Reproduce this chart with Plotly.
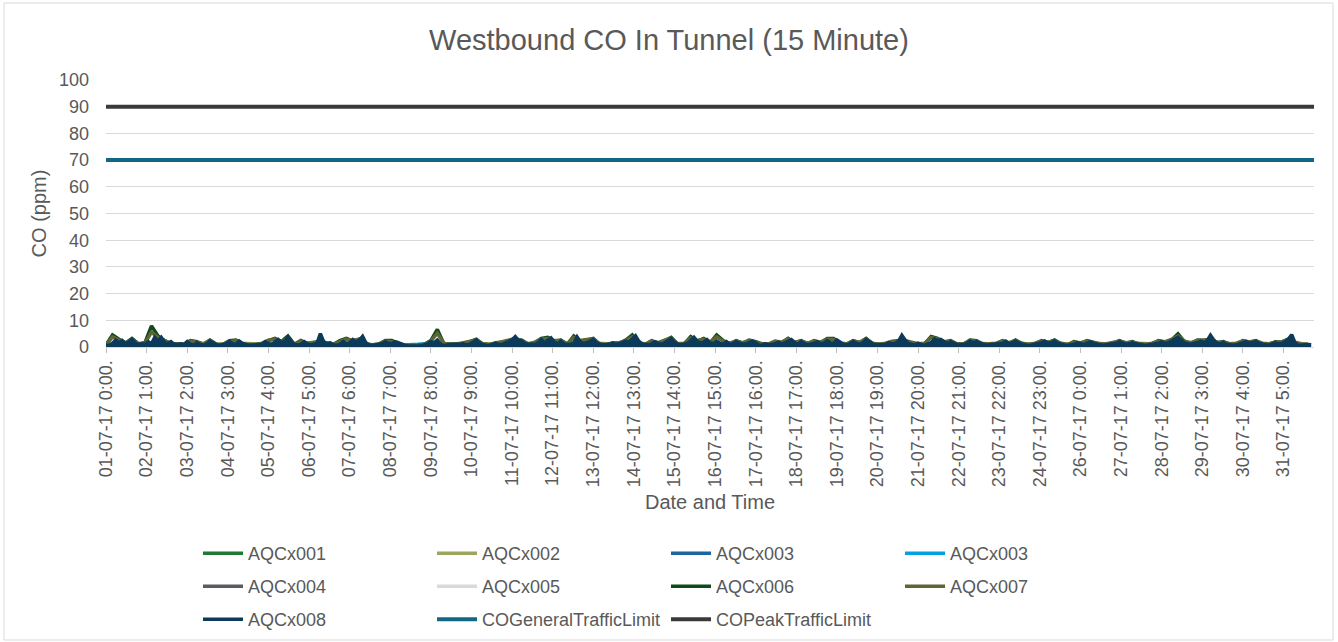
import pandas as pd
import plotly.graph_objects as go

# ---------------- data ----------------
title_text = "Westbound CO In Tunnel (15 Minute)"

tick_labels = [
    "01-07-17 0:00", "02-07-17 1:00", "03-07-17 2:00", "04-07-17 3:00", "05-07-17 4:00",
    "06-07-17 5:00", "07-07-17 6:00", "08-07-17 7:00", "09-07-17 8:00", "10-07-17 9:00",
    "11-07-17 10:00", "12-07-17 11:00", "13-07-17 12:00", "14-07-17 13:00", "15-07-17 14:00",
    "16-07-17 15:00", "17-07-17 16:00", "18-07-17 17:00", "19-07-17 18:00", "20-07-17 19:00",
    "21-07-17 20:00", "22-07-17 21:00", "23-07-17 22:00", "24-07-17 23:00", "26-07-17 0:00",
    "27-07-17 1:00", "28-07-17 2:00", "29-07-17 3:00", "30-07-17 4:00", "31-07-17 5:00",
]

series_start = "2017-07-01 00:00"
series_end = "2017-07-31 23:45"

# AQCx008 (2-hourly readings, 12 per day)
aqc008 = [
    0.8,0.6,1.4,2.6,1.5,2.4,1.2,1.8,2.8,1.4,1.0,1.2,
    1.0,2.0,1.2,3.6,2.2,3.6,1.8,1.2,2.0,1.0,0.8,1.2,
    0.9,2.0,1.0,0.8,1.6,0.9,0.7,1.2,2.2,1.4,0.8,0.7,
    0.8,1.2,2.0,1.2,1.0,2.2,1.3,0.8,0.6,0.7,0.9,0.8,
    1.0,2.0,1.2,1.0,1.8,2.8,1.6,2.2,3.6,2.0,1.0,0.8,
    1.0,2.0,1.2,0.8,1.0,1.6,5.0,2.0,1.0,1.6,0.8,0.7,
    1.0,2.0,1.4,1.6,2.8,1.8,2.6,4.0,1.6,0.8,0.6,0.7,
    0.8,1.2,2.0,1.4,1.2,2.0,1.6,1.0,0.6,0.5,0.4,0.5,
    0.5,0.4,0.8,1.2,2.0,1.6,2.6,1.0,0.5,0.8,1.0,0.9,
    0.8,1.0,1.2,0.8,1.0,1.8,2.6,1.6,0.9,0.7,0.6,1.0,
    1.4,0.9,1.0,1.6,2.0,2.6,3.9,2.4,2.2,1.2,1.0,0.9,
    1.0,1.6,2.8,1.6,2.4,3.4,1.8,1.2,2.2,1.2,0.9,1.0,
    1.6,3.8,2.0,1.2,1.6,2.2,2.8,1.6,1.0,0.8,0.7,0.9,
    1.4,1.0,1.2,1.6,2.2,1.8,2.8,4.2,2.2,1.2,0.9,0.8,
    1.2,2.0,1.4,1.0,1.6,2.4,3.2,1.8,1.0,0.8,1.2,1.4,
    2.4,3.6,2.2,1.4,1.8,2.8,1.6,1.2,2.2,1.4,1.0,2.0,
    1.0,1.2,2.0,1.4,1.0,1.2,1.8,2.2,1.6,0.8,0.6,1.2,
    0.8,1.0,1.2,1.8,1.2,1.6,2.2,2.8,1.6,1.0,2.0,1.2,
    0.9,1.0,1.4,2.0,1.2,1.4,2.4,1.6,1.4,2.6,1.6,1.0,
    0.8,1.2,2.0,1.4,1.0,1.6,2.8,2.0,1.2,0.8,0.7,0.8,
    1.0,1.6,1.2,1.4,2.2,4.4,2.6,1.4,1.0,0.8,1.4,0.8,
    0.7,1.0,1.6,3.0,2.4,2.8,1.8,1.2,2.0,1.4,0.9,0.8,
    0.9,1.4,2.2,1.6,2.0,1.4,0.9,0.7,0.8,1.0,0.9,1.2,
    1.4,2.2,1.2,1.6,2.2,1.6,1.0,0.8,0.6,0.8,1.0,1.2,
    1.6,2.2,1.4,1.6,2.2,1.4,1.0,0.8,0.6,0.8,1.0,1.6,
    1.2,1.0,1.4,2.0,1.4,1.0,0.8,0.7,0.8,1.0,1.2,1.4,
    2.0,1.4,1.0,1.2,1.6,1.2,0.9,0.7,0.6,0.8,1.0,1.2,
    1.4,2.0,1.4,1.6,2.2,2.8,3.6,2.6,1.6,1.2,1.0,1.4,
    1.6,2.2,1.6,2.4,4.4,2.6,1.4,1.2,1.6,1.0,0.8,0.7,
    0.8,1.2,1.6,2.0,1.4,1.6,2.0,1.4,1.0,0.8,0.7,1.0,
    1.6,1.2,1.4,2.0,3.0,4.6,1.6,0.6,0.8,1.0,0.9,0.8,
]

# AQCx006 (4-hourly readings, 6 per day)
aqc006 = [
    0.8,4.5,2.9,1.4,3.2,1.2,  1.6,7.9,4.1,2.4,1.2,1.0,  1.0,2.4,2.0,1.0,2.6,1.0,
    0.9,2.4,2.6,1.0,0.8,0.9,  1.2,2.4,3.2,2.0,4.1,1.0,  2.4,1.2,1.6,2.2,1.4,0.9,
    2.4,3.2,2.2,2.8,1.0,0.8,  1.0,2.4,2.4,1.2,0.6,0.5,  0.6,0.9,2.4,6.6,1.2,1.0,
    1.2,1.4,2.0,2.9,1.0,0.8,  1.6,1.8,2.4,3.0,2.6,1.0,  1.6,3.2,3.6,2.2,2.6,1.0,
    4.1,2.2,2.6,3.2,1.0,0.9,  1.6,1.4,2.6,4.5,1.4,0.9,  2.4,1.4,2.4,3.6,1.0,1.2,
    3.9,2.2,3.2,1.6,4.5,2.4,  1.2,2.4,1.4,2.6,2.0,1.2,  1.0,2.0,1.6,3.2,1.6,2.4,
    1.2,2.4,1.6,3.2,3.2,1.2,  1.0,2.4,1.6,3.2,1.2,0.9,  1.2,2.0,2.4,2.0,1.6,1.0,
    1.2,3.9,3.2,1.8,2.4,1.0,  1.0,2.6,2.4,1.0,1.0,1.2,  2.4,1.4,2.6,1.2,0.8,1.2,
    2.4,1.6,2.6,1.2,0.8,2.0,  1.4,2.4,1.6,1.0,1.0,1.4,  2.4,1.4,2.0,1.0,0.8,1.2,
    2.4,1.8,2.6,4.9,2.0,1.4,  2.6,2.4,3.0,1.6,2.0,1.0,  1.2,2.4,1.8,2.4,1.2,1.0,
    2.0,1.8,3.0,1.6,1.0,0.9,
]

# AQCx007 (4-hourly readings, 6 per day)
aqc007 = [
    0.7,3.8,2.6,1.6,2.8,1.0,  1.4,5.6,3.6,2.6,1.4,0.9,  0.9,2.2,1.6,1.2,2.4,0.9,
    1.0,2.0,2.4,1.2,0.7,0.8,  1.4,2.6,3.0,1.8,3.4,0.9,  2.2,1.4,1.8,2.0,1.6,0.8,
    2.0,3.0,2.4,3.0,1.2,0.7,  1.2,2.2,2.0,1.4,0.7,0.6,  0.5,1.0,2.2,5.2,1.4,0.9,
    1.0,1.6,2.2,2.6,1.2,0.9,  1.4,2.0,2.6,3.2,2.2,1.2,  1.8,3.0,3.2,2.4,2.4,1.2,
    3.6,2.4,2.8,3.0,1.2,0.8,  1.4,1.6,2.4,3.8,1.6,1.0,  2.2,1.6,2.6,3.4,1.2,1.4,
    3.4,2.4,3.0,1.8,3.8,2.2,  1.4,2.2,1.6,2.4,1.8,1.0,  1.2,2.2,1.8,3.0,1.8,2.2,
    1.4,2.2,1.8,3.0,2.8,1.4,  1.2,2.2,1.8,3.0,1.4,1.0,  1.4,2.2,2.2,2.4,1.8,1.2,
    1.4,3.6,3.0,2.0,2.2,1.2,  1.2,2.4,2.2,1.2,1.2,1.4,  2.2,1.6,2.4,1.4,1.0,1.4,
    2.2,1.8,2.4,1.4,1.0,1.8,  1.6,2.2,1.8,1.2,1.2,1.6,  2.2,1.6,1.8,1.2,1.0,1.4,
    2.2,2.0,2.8,4.2,2.2,1.6,  2.4,2.6,2.8,1.8,1.8,1.2,  1.4,2.2,2.0,2.2,1.4,1.2,
    1.8,2.0,2.8,1.8,1.2,1.0,
]

# 12-hourly readings (2 per day)
aqc001 = [0.6,1.0,0.8,1.2,0.7,0.9,0.6,1.1,0.8,1.3,0.7,1.2,0.6,0.9,0.5,0.8,0.4,0.9,0.7,1.0,
          0.8,1.3,0.9,1.4,0.8,1.2,0.9,1.3,0.7,1.1,0.8,1.4,0.6,1.0,0.7,1.1,0.8,1.2,0.7,1.0,
          0.8,1.3,0.7,1.2,0.6,1.0,0.7,1.0,0.6,0.9,0.7,1.0,0.6,1.1,0.8,1.3,0.9,1.2,0.6,1.0,
          0.7,1.2]
aqc002 = [0.8,1.3,1.0,1.5,0.9,1.2,0.8,1.4,1.0,1.6,0.9,1.4,0.8,1.2,0.7,1.0,0.6,1.1,0.9,1.3,
          1.0,1.6,1.1,1.7,1.0,1.5,1.1,1.6,0.9,1.4,1.0,1.7,0.8,1.3,0.9,1.4,1.0,1.5,0.9,1.3,
          1.0,1.6,0.9,1.5,0.8,1.3,0.9,1.3,0.8,1.2,0.9,1.3,0.8,1.4,1.0,1.6,1.1,1.5,0.8,1.3,
          0.9,1.4]
aqc003 = [0.5,0.8,0.6,0.9,0.5,0.7,0.5,0.8,0.6,1.0,0.5,0.9,0.5,0.7,0.4,0.6,0.3,0.7,0.5,0.8,
          0.6,1.0,0.7,1.1,0.6,0.9,0.7,1.0,0.5,0.8,0.6,1.1,0.5,0.8,0.5,0.9,0.6,0.9,0.5,0.8,
          0.6,1.0,0.5,0.9,0.5,0.8,0.5,0.8,0.5,0.7,0.5,0.8,0.5,0.9,0.6,1.0,0.7,0.9,0.5,0.8,
          0.5,0.9]
aqc003b = [0.4,0.6,0.5,0.7,0.4,0.6,0.4,0.7,0.5,0.8,0.4,0.7,0.4,0.6,0.3,0.5,1.0,1.6,0.4,0.7,
           0.5,0.8,0.6,0.9,0.5,0.7,0.6,0.8,0.4,0.7,0.5,0.9,0.4,0.7,0.4,0.7,0.5,0.8,0.4,0.7,
           0.5,0.8,0.4,0.7,0.4,0.6,0.4,0.7,0.4,0.6,0.4,0.7,0.4,0.7,0.5,0.8,0.6,0.8,0.4,0.7,
           0.5,1.4]
aqc004 = [0.3,0.5,0.4,0.6,0.3,0.5,0.3,0.6,0.4,0.7,0.3,0.6,0.3,0.5,0.3,0.4,0.2,0.5,0.3,0.6,
          0.4,0.7,0.5,0.8,0.4,0.6,0.5,0.7,0.3,0.6,0.4,0.8,0.3,0.6,0.3,0.6,0.4,0.7,0.3,0.6,
          0.4,0.7,0.3,0.6,0.3,0.5,0.3,0.6,0.3,0.5,0.3,0.6,0.3,0.6,0.4,0.7,0.5,0.6,0.3,0.5,
          0.3,0.6]
aqc005 = [0.2,0.4,0.3,0.5,0.2,0.4,0.2,0.5,0.3,0.6,0.2,0.5,0.2,0.4,0.2,0.3,0.2,0.4,0.2,0.5,
          0.3,0.6,0.4,0.7,0.3,0.5,0.4,0.6,0.2,0.5,0.3,0.7,0.2,0.5,0.2,0.5,0.3,0.6,0.2,0.5,
          0.3,0.6,0.2,0.5,0.2,0.4,0.2,0.5,0.2,0.4,0.2,0.5,0.2,0.5,0.3,0.6,0.4,0.5,0.2,0.4,
          0.2,0.5]

limit_times = [series_start, series_end]
general_limit = [70, 70]
peak_limit = [90, 90]

# ---------------- figure ----------------
FONT = "Liberation Sans, Arial, sans-serif"
TXT = "#595959"
NAVY = "#0b3a5a"


def times(vals, freq):
    return pd.date_range(series_start, periods=len(vals), freq=freq)


# name, values, sampling, colour, legend row
series = [
    ("AQCx001", aqc001, "12h", "#1e7a32", "legend"),
    ("AQCx002", aqc002, "12h", "#9ea65c", "legend"),
    ("AQCx003", aqc003, "12h", "#1a66a0", "legend"),
    ("AQCx003", aqc003b, "12h", "#00a3dd", "legend"),
    ("AQCx004", aqc004, "12h", "#5a5a60", "legend2"),
    ("AQCx005", aqc005, "12h", "#d9d9d9", "legend2"),
    ("AQCx006", aqc006, "4h", "#0f4a1a", "legend2"),
    ("AQCx007", aqc007, "4h", "#5e6638", "legend2"),
]

fig = go.Figure()
for name, vals, freq, col, lg in series:
    fig.add_trace(go.Scatter(x=times(vals, freq), y=vals, name=name, mode="lines",
                             line=dict(color=col, width=3.5), legend=lg))

# AQCx008: dense 15-minute trace rendered as a solid band beneath its line
fig.add_trace(go.Scatter(x=times(aqc008, "2h"), y=aqc008, mode="lines", fill="tozeroy",
                         fillcolor=NAVY, line=dict(color=NAVY, width=0), showlegend=False,
                         hoverinfo="skip", legend="legend3"))
fig.add_trace(go.Scatter(x=times(aqc008, "2h"), y=aqc008, name="AQCx008", mode="lines",
                         line=dict(color=NAVY, width=3.5), legend="legend3"))

fig.add_trace(go.Scatter(x=pd.to_datetime(limit_times), y=general_limit, name="COGeneralTrafficLimit",
                         mode="lines", line=dict(color="#116885", width=4), legend="legend3"))
fig.add_trace(go.Scatter(x=pd.to_datetime(limit_times), y=peak_limit, name="COPeakTrafficLimit",
                         mode="lines", line=dict(color="#3a3a3a", width=4), legend="legend3"))

tickvals = pd.to_datetime(tick_labels, format="%d-%m-%y %H:%M")
ticktext = [t + "." for t in tick_labels]

L, R, T, B = 106, 24, 80, 295
W, H = 1338, 642
pw, ph = W - L - R, H - T - B


def legend_row(top_px):
    return dict(orientation="h", x=(198 - L) / pw, xanchor="left", y=(347 - top_px) / ph,
                yanchor="top", entrywidth=179, entrywidthmode="pixels", itemwidth=40,
                font=dict(size=18, color=TXT), traceorder="normal", bgcolor="rgba(0,0,0,0)")


fig.update_layout(
    width=W, height=H,
    margin=dict(l=L, r=R, t=T, b=B, autoexpand=False),
    paper_bgcolor="white", plot_bgcolor="white",
    font=dict(family=FONT, color=TXT, size=18),
    title=dict(text=title_text, x=0.5, xanchor="center", y=1 - 40 / H, yanchor="middle",
               yref="container", font=dict(size=29, color=TXT, family=FONT)),
    showlegend=True,
    legend=legend_row(535),
    legend2=legend_row(568),
    legend3=legend_row(601),
    xaxis=dict(type="date", range=[series_start, series_end], tickmode="array",
               tickvals=tickvals, ticktext=ticktext, tickangle=-90,
               ticks="outside", ticklen=5, tickcolor="#bfbfbf",
               showgrid=False, showline=True, linecolor="#d9d9d9",
               tickfont=dict(size=18, color=TXT),
               title=dict(text="Date and Time", font=dict(size=20, color=TXT), standoff=8)),
    yaxis=dict(range=[0, 100], dtick=10, tick0=0, showgrid=True, gridcolor="#d9d9d9", gridwidth=1,
               zeroline=False, showline=False, ticks="", ticklabelstandoff=16,
               tickfont=dict(size=18, color=TXT),
               title=dict(text="CO (ppm)", font=dict(size=20, color=TXT), standoff=6)),
    shapes=[dict(type="rect", xref="paper", yref="paper",
                 x0=(4 - L) / pw, x1=(1333 - L) / pw, y0=(347 - 640) / ph, y1=(347 - 3) / ph,
                 line=dict(color="#d9d9d9", width=1), fillcolor="rgba(0,0,0,0)", layer="below")],
)

fig.write_html("out.html", config={"displayModeBar": False},
               post_script="document.body.style.margin='0';document.body.style.padding='0';")
